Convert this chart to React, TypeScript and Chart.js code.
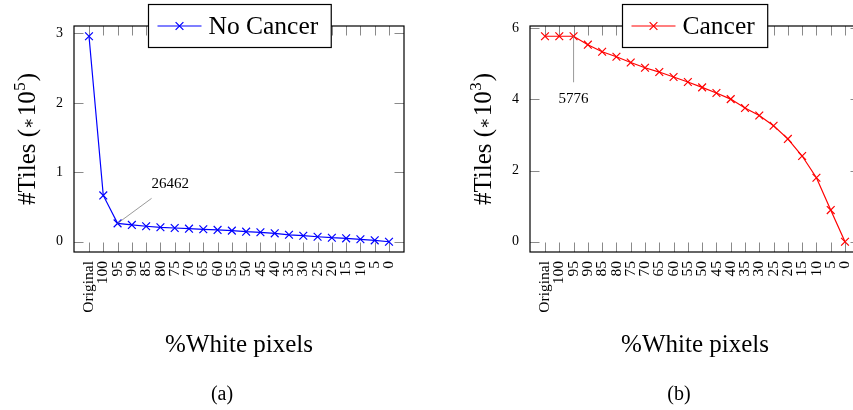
import React, { useEffect, useRef } from 'react';
import { Chart, registerables } from 'chart.js';

Chart.register(...registerables);

// ---- data ----
const categories = ['Original', '100', '95', '90', '85', '80', '75', '70', '65', '60', '55', '50', '45', '40', '35', '30', '25', '20', '15', '10', '5', '0'];
const noCancerTiles = [296000, 66700, 26462, 24200, 22300, 20800, 19800, 18800, 17900, 17000, 16000, 14500, 13600, 12100, 10000, 8700, 7200, 5800, 4900, 3500, 2000, 0];
const cancerTiles = [5776, 5776, 5776, 5540, 5340, 5200, 5040, 4890, 4770, 4630, 4490, 4340, 4180, 4010, 3760, 3550, 3260, 2890, 2410, 1800, 890, 0];
const noCancerYTicks = [0, 1, 2, 3];
const cancerYTicks = [0, 2, 4, 6];

const FONT = "'Liberation Serif', 'Times New Roman', serif";
const W = 426;
const H = 410;

type Spec = {
  values: number[];
  exponent: number;
  color: string;
  label: string;
  yTicks: number[];
  caption: string;
  captionX: number;
  pinIndex: number;
  pinText: string;
  pinDx: number;
  pinDy: number;
  textDx: number;
  textDy: number;
  textAlign: CanvasTextAlign;
};

function drawCross(ctx: CanvasRenderingContext2D, x: number, y: number, r: number) {
  const d = r * Math.SQRT1_2;
  ctx.beginPath();
  ctx.moveTo(x - d, y - d);
  ctx.lineTo(x + d, y + d);
  ctx.moveTo(x - d, y + d);
  ctx.lineTo(x + d, y - d);
  ctx.stroke();
}

const framePlugin = {
  id: 'frame',
  beforeDatasetsDraw(chart: any) {
    const { ctx, chartArea: a, scales } = chart;
    const TL = 9.5;
    ctx.save();
    ctx.strokeStyle = '#8a8a8a';
    ctx.lineWidth = 1;
    ctx.beginPath();
    scales.x.ticks.forEach((t: any) => {
      const px = Math.round(scales.x.getPixelForValue(t.value)) + 0.5;
      ctx.moveTo(px, a.bottom);
      ctx.lineTo(px, a.bottom - TL);
      ctx.moveTo(px, a.top);
      ctx.lineTo(px, a.top + TL);
    });
    scales.y.ticks.forEach((t: any) => {
      const py = Math.round(scales.y.getPixelForValue(t.value)) + 0.5;
      ctx.moveTo(a.left, py);
      ctx.lineTo(a.left + TL, py);
      ctx.moveTo(a.right, py);
      ctx.lineTo(a.right - TL, py);
    });
    ctx.stroke();
    ctx.restore();
  },
  afterDraw(chart: any, _args: any, opts: any) {
    const { ctx, chartArea: a } = chart;
    const spec: Spec = opts.spec;
    ctx.save();
    // frame
    ctx.strokeStyle = '#000';
    ctx.lineWidth = 1.2;
    ctx.strokeRect(a.left, a.top, a.right - a.left, a.bottom - a.top);

    // pin annotation
    const p = chart.getDatasetMeta(0).data[spec.pinIndex];
    ctx.strokeStyle = '#808080';
    ctx.lineWidth = 0.8;
    ctx.beginPath();
    ctx.moveTo(p.x, p.y);
    ctx.lineTo(p.x + spec.pinDx, p.y + spec.pinDy);
    ctx.stroke();
    ctx.fillStyle = '#000';
    ctx.font = `15px ${FONT}`;
    ctx.textAlign = spec.textAlign;
    ctx.textBaseline = 'alphabetic';
    ctx.fillText(spec.pinText, p.x + spec.textDx, p.y + spec.textDy);

    // legend
    const cx = (a.left + a.right) / 2;
    ctx.font = `25.5px ${FONT}`;
    const tw = ctx.measureText(spec.label).width;
    const bw = 9 + 44 + 7 + tw + 13;
    const bx = Math.round(cx - bw / 2) + 0.5;
    const by = 4.5;
    const bh = 43;
    ctx.fillStyle = '#fff';
    ctx.fillRect(bx, by, bw, bh);
    ctx.strokeStyle = '#000';
    ctx.lineWidth = 1.2;
    ctx.strokeRect(bx, by, bw, bh);
    const ly = by + bh / 2;
    ctx.strokeStyle = spec.color;
    ctx.lineWidth = 1.2;
    ctx.beginPath();
    ctx.moveTo(bx + 9, ly);
    ctx.lineTo(bx + 53, ly);
    ctx.stroke();
    drawCross(ctx, bx + 31, ly, 5.5);
    ctx.fillStyle = '#000';
    ctx.textAlign = 'left';
    ctx.fillText(spec.label, bx + 60, by + 29);

    // x title
    ctx.font = `25px ${FONT}`;
    ctx.textAlign = 'center';
    ctx.fillText('%White pixels', cx, 352);

    // caption
    ctx.font = `20px ${FONT}`;
    ctx.fillText(spec.caption, spec.captionX, 400);

    // y title with superscript
    const cy = (a.top + a.bottom) / 2;
    ctx.translate(35, cy);
    ctx.rotate(-Math.PI / 2);
    const main = `25px ${FONT}`;
    const star = `17px 'DejaVu Serif', serif`;
    const sup = `17px ${FONT}`;
    const parts: [string, string, number, number][] = [
      ['#Tiles (', main, 0, 0],
      ['\u2217', star, -1, 1],
      ['10', main, 0, 0.5],
      [String(spec.exponent), sup, -10, 1],
      [')', main, 0, 0],
    ];
    const widths = parts.map(([t, f]) => {
      ctx.font = f;
      return ctx.measureText(t).width;
    });
    const total = widths.reduce((s, w, i) => s + w + parts[i][3], 0);
    let x = -total / 2;
    ctx.textAlign = 'left';
    parts.forEach(([t, f, dy, gap], i) => {
      ctx.font = f;
      ctx.fillText(t, x, dy);
      x += widths[i] + gap;
    });
    ctx.restore();
  },
};

function Panel({ spec, left }: { spec: Spec; left: number }) {
  const ref = useRef<HTMLCanvasElement | null>(null);
  useEffect(() => {
    if (!ref.current) return;
    const factor = Math.pow(10, spec.exponent);
    const scaled = spec.values.map((v) => v / factor);
    const maxV = Math.max(...scaled);
    const minV = Math.min(...scaled);
    const enl = (maxV - minV) * 0.05;
    const n = categories.length - 1;
    const chart = new Chart(ref.current, {
      type: 'line',
      data: {
        datasets: [
          {
            data: scaled.map((v, i) => ({ x: i, y: v })),
            borderColor: spec.color,
            backgroundColor: spec.color,
            borderWidth: 1.2,
            pointStyle: 'crossRot',
            pointRadius: 5.5,
            pointBorderWidth: 1.2,
            pointBorderColor: spec.color,
            tension: 0,
            fill: false,
          } as any,
        ],
      },
      plugins: [framePlugin as any],
      options: {
        animation: false,
        responsive: false,
        maintainAspectRatio: false,
        devicePixelRatio: 1,
        layout: { padding: { left: 0, top: 26, right: 22, bottom: 0 } },
        plugins: {
          legend: { display: false },
          tooltip: { enabled: false },
          frame: { spec },
        } as any,
        scales: {
          x: {
            type: 'linear',
            min: -n * 0.05,
            max: n * 1.05,
            grid: { display: false, drawTicks: false },
            border: { display: false },
            afterBuildTicks: (s: any) => {
              s.ticks = categories.map((_, i) => ({ value: i }));
            },
            afterFit: (s: any) => {
              s.height = 158;
            },
            ticks: {
              autoSkip: false,
              minRotation: 90,
              maxRotation: 90,
              padding: 9,
              color: '#000',
              font: { family: FONT, size: 15.5 },
              callback: (v: any) => categories[v as number] ?? '',
            },
          },
          y: {
            type: 'linear',
            min: minV - enl,
            max: maxV + enl,
            grid: { display: false, drawTicks: false },
            border: { display: false },
            afterBuildTicks: (s: any) => {
              s.ticks = spec.yTicks.map((v) => ({ value: v }));
            },
            afterFit: (s: any) => {
              s.width = 74;
            },
            ticks: {
              padding: 11,
              color: '#000',
              font: { family: FONT, size: 14 },
              callback: (v: any) => String(v),
            },
          },
        },
      },
    });
    return () => chart.destroy();
  }, [spec]);
  return (
    <canvas
      ref={ref}
      width={W}
      height={H}
      style={{ position: 'absolute', left, top: 0, width: W, height: H }}
    />
  );
}

const specA: Spec = {
  values: noCancerTiles,
  exponent: 5,
  color: '#0000ff',
  label: 'No Cancer',
  yTicks: noCancerYTicks,
  caption: '(a)',
  captionX: 222,
  pinIndex: 2,
  pinText: String(noCancerTiles[2]),
  pinDx: 34,
  pinDy: -25,
  textDx: 34,
  textDy: -35,
  textAlign: 'left',
};

const specB: Spec = {
  values: cancerTiles,
  exponent: 3,
  color: '#ff0000',
  label: 'Cancer',
  yTicks: cancerYTicks,
  caption: '(b)',
  captionX: 223,
  pinIndex: 2,
  pinText: String(cancerTiles[2]),
  pinDx: 0,
  pinDy: 46,
  textDx: 0,
  textDy: 67,
  textAlign: 'center',
};

export default function App() {
  return (
    <div
      style={{
        position: 'fixed',
        left: 0,
        top: 0,
        width: 853,
        height: 410,
        overflow: 'hidden',
        background: '#fff',
      }}
    >
      <Panel spec={specA} left={0} />
      <Panel spec={specB} left={456} />
    </div>
  );
}
